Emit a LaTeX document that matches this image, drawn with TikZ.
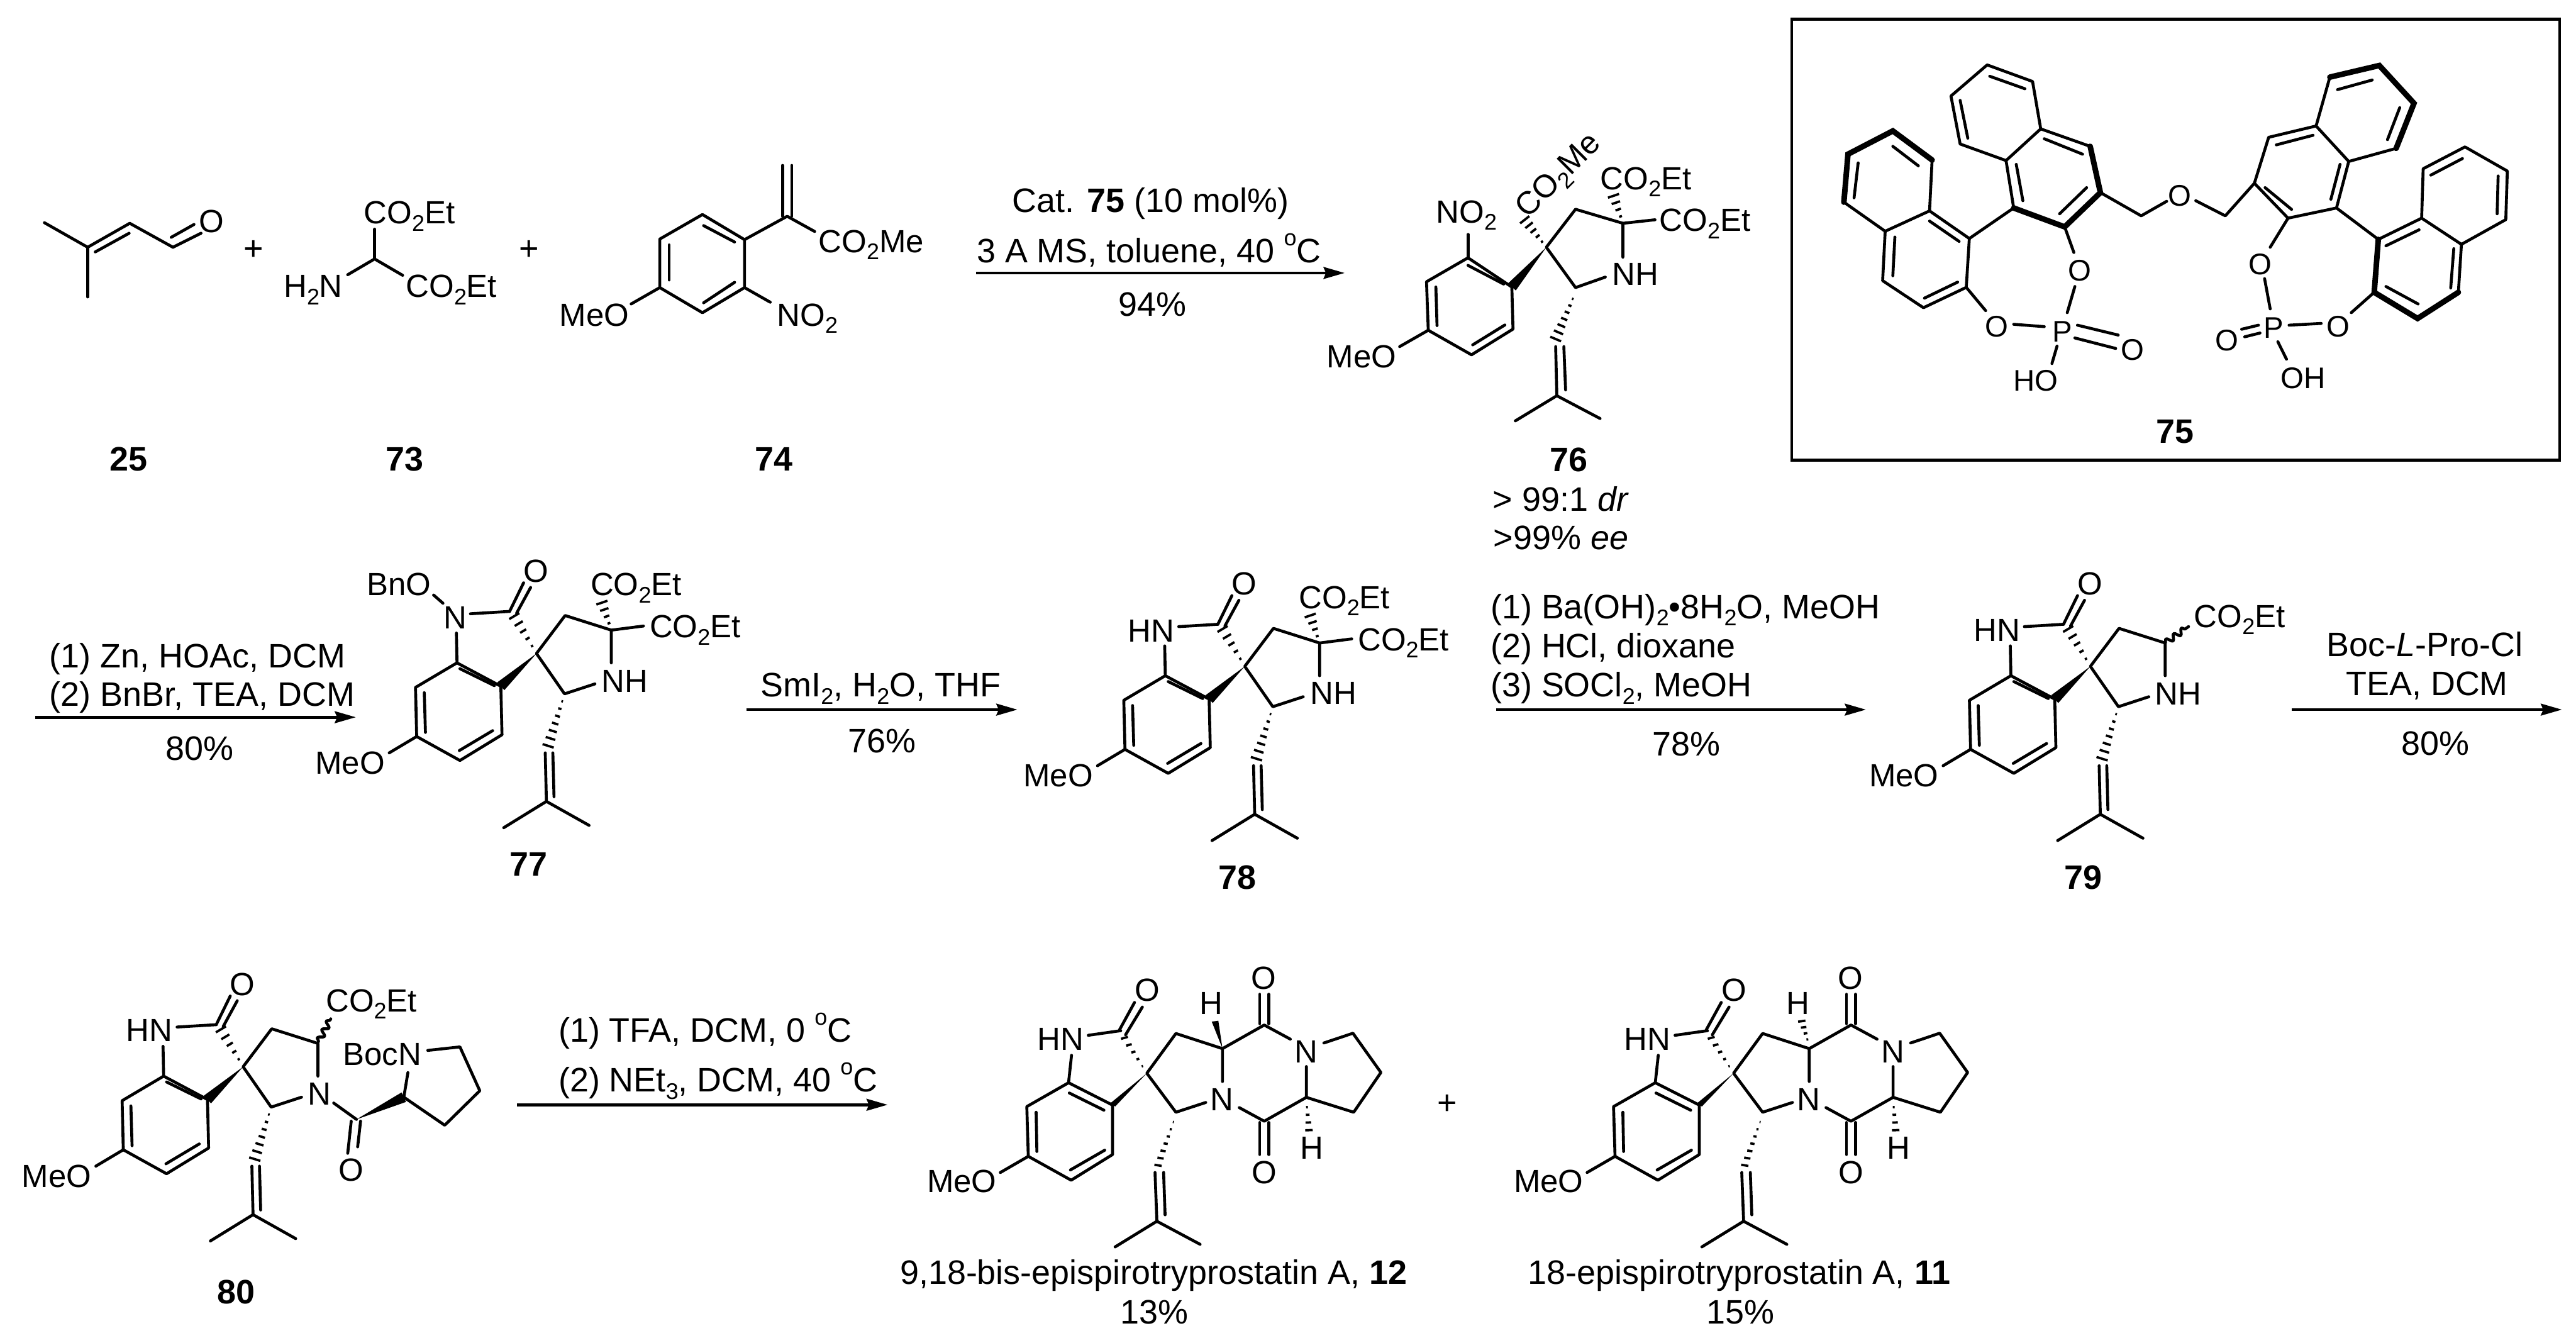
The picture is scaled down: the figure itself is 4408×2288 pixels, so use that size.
\documentclass[tikz,border=0pt]{standalone}
\usepackage{fontspec}
\setmainfont{Liberation Sans}
\usetikzlibrary{arrows.meta, calc, decorations.pathmorphing}

\newcommand{\subs}[1]{\raisebox{-0.22em}{\fontsize{11}{12}\selectfont #1}}
\newcommand{\degc}{\raisebox{0.5em}{\fontsize{11}{12}\selectfont o}C}
\newcommand{\wedgebond}[2]{\fill ($#2!0.09cm!90:#1$) -- #1 -- ($#2!0.09cm!-90:#1$) -- cycle;}
\newcommand{\hashbond}[3]{\foreach \i in {1,...,#1}{\pgfmathsetmacro{\t}{\i/#1}
    \draw[hashmark] ($#2!\t!#3!\t*0.1cm!90:#2$) -- ($#2!\t!#3!\t*0.1cm!-90:#2$);}}

\tikzset{
    bond/.style={line width=0.05cm, line cap=round, line join=round},
    boldbond/.style={line width=0.095cm, line cap=round, line join=miter},
    hashmark/.style={line width=0.04cm},
    wavybond/.style={bond, decorate, decoration={snake, amplitude=0.05cm, segment length=0.16cm}},
    rxn/.style={line width=0.052cm, -{Stealth[length=0.36cm, width=0.2cm, inset=0.04cm]}},
    atom/.style={anchor=base, inner sep=0pt, font=\fontsize{15.6}{18}\selectfont},
    atomw/.style={atom, anchor=base west},
    atome/.style={atom, anchor=base east},
    catatom/.style={atom, font=\fontsize{14.5}{18}\selectfont},
    reag/.style={anchor=base, inner sep=0pt, font=\fontsize{16.5}{20}\selectfont},
    reagw/.style={reag, anchor=base west},
    cpd/.style={reag, font=\fontsize{16.5}{20}\selectfont\bfseries},
    spirocore/.pic={
        \draw[bond] (1994,1156) -- (2069,1196) -- (2071,1279) -- (1999,1323) -- (1925,1282) -- (1923,1198) -- cycle;
        \draw[bond] (1999,1166) -- (2058,1195);
        \draw[bond] (1938,1207) -- (1940,1275);
        \draw[bond] (1998,1306) -- (2055,1272);
        \draw[bond] (1925,1282) -- (1878,1310);
        \node[atome] (-meo) at (1871,1346) {MeO};
        \draw[bond] (1993,1105) -- (1994,1156);
        \draw[bond] (2017,1072) -- (2084,1068);
        \draw[bond] (2084,1068) -- (2108,1019);
        \draw[bond] (2096,1071) -- (2120,1027);
        \node[atom] (-oxo) at (2129,1018) {O};
        \hashbond{5}{(2130,1140)}{(2092,1076)}
        \wedgebond{(2130,1140)}{(2069,1196)}
        \draw[bond] (2258,1156) -- (2258,1100) -- (2179,1075) -- (2130,1140) -- (2178,1209) -- (2230,1192);
        \hashbond{7}{(2178,1209)}{(2150,1298)}
        \draw[bond] (2145,1310) -- (2147,1393);
        \draw[bond] (2158,1310) -- (2160,1385);
        \draw[bond] (2074,1438) -- (2147,1393) -- (2220,1434);
    },
    diester/.pic={
        \hashbond{4}{(2258,1100)}{(2242,1053)}
        \node[atomw] (-up) at (2222,1041) {CO\subs{2}Et};
        \draw[bond] (2258,1100) -- (2313,1093);
        \node[atomw] (-side) at (2323,1113) {CO\subs{2}Et};
    },
    diketo/.pic={
        \begin{scope}[xscale=0.6378, yscale=0.4388]
        \draw[bond] (515,575) -- (633,662) -- (633,855) -- (522,955) -- (407,862) -- (403,668) -- cycle;
        \draw[bond] (517,615) -- (610,682);
        \draw[bond] (428,690) -- (430,843);
        \draw[bond] (520,915) -- (612,838);
        \draw[bond] (407,862) -- (332,925);
        \node[atome] (-meo) at (323,1003) {MeO};
        \node[atome] (-hn) at (557,448) {HN};
        \draw[bond] (523,468) -- (515,575);
        \draw[bond] (568,390) -- (655,372);
        \draw[bond] (652,368) -- (692,262);
        \draw[bond] (668,388) -- (713,280);
        \node[atom] (-oxo) at (727,258) {O};
        \hashbond{5}{(725,538)}{(665,400)}
        \wedgebond{(725,538)}{(633,662)}
        \draw[bond] (928,570) -- (928,442) -- (803,383) -- (725,538) -- (803,690) -- (883,652);
        \draw[bond] (928,442) -- (1040,350) -- (1110,405);
        \draw[bond] (1028,345) -- (1028,230);
        \draw[bond] (1052,345) -- (1052,230);
        \node[atom] (-ota) at (1038,210) {O};
        \node[atom] (-na) at (1153,497) {N};
        \draw[bond] (1200,420) -- (1278,382) -- (1353,535) -- (1280,690) -- (1153,632) -- (1153,512);
        \draw[bond] (1153,632) -- (1040,725) -- (973,672);
        \node[atom] (-nb) at (926,683) {N};
        \draw[bond] (1028,730) -- (1028,855);
        \draw[bond] (1052,730) -- (1052,855);
        \node[atom] (-otb) at (1040,968) {O};
        \hashbond{4}{(1153,640)}{(1160,760)}
        \node[atom] (-hb) at (1168,872) {H};
        \hashbond{7}{(803,700)}{(755,897)}
        \draw[bond] (747,925) -- (752,1115);
        \draw[bond] (770,925) -- (774,1090);
        \draw[bond] (640,1215) -- (752,1115) -- (868,1205);
        \node[atom] (-ha) at (898,308) {H};
        \end{scope}
    }
}

\begin{document}
\begin{tikzpicture}[x=0.01cm, y=-0.01cm]
    \useasboundingbox (0,0) rectangle (4408,2288);

    \draw[bond] (76,381) -- (150,423) -- (222,382) -- (296,423);
    \draw[bond] (150,423) -- (150,508);
    \draw[bond] (163,431) -- (221,399);
    \draw[bond] (296,423) -- (344,399);
    \draw[bond] (293,406) -- (332,384);
    \node[atom] (aldo) at (362,398) {O};
    \node[cpd] (c25) at (220,805) {25};
    \node[reag] (plusa) at (434,445) {+};

    \draw[bond] (641,392) -- (641,443);
    \draw[bond] (595,470) -- (641,443) -- (689,471);
    \node[atomw] (mala) at (622,383) {CO\subs{2}Et};
    \node[atomw] (malb) at (694,509) {CO\subs{2}Et};
    \node[atome] (mnh) at (587,509) {H\subs{2}N};
    \node[cpd] (c73) at (692,805) {73};
    \node[reag] (plusb) at (905,445) {+};

    \draw[bond] (1202,367) -- (1274,410) -- (1274,492) -- (1202,535) -- (1129,492) -- (1129,409) -- cycle;
    \draw[bond] (1204,386) -- (1257,414);
    \draw[bond] (1145,419) -- (1145,479);
    \draw[bond] (1204,518) -- (1257,483);
    \draw[bond] (1274,410) -- (1347,370) -- (1394,396);
    \draw[bond] (1339,370) -- (1339,283);
    \draw[bond] (1355,370) -- (1355,283);
    \draw[bond] (1274,492) -- (1318,517);
    \draw[bond] (1129,492) -- (1080,520);
    \node[atomw] (acry) at (1400,432) {CO\subs{2}Me};
    \node[atomw] (nitro) at (1329,558) {NO\subs{2}};
    \node[atome] (meoa) at (1077,558) {MeO};
    \node[cpd] (c74) at (1324,805) {74};

    \coordinate (ra) at (1670,467);
    \coordinate (rb) at (2301,467);
    \draw[rxn] (ra) -- (rb);
    \node[reag] (ca) at (1969,363) {Cat. \textbf{75} (10 mol\%)};
    \node[reag] (cb) at (1966,449) {3 A MS, toluene, 40 \degc};
    \node[reag] (cc) at (1972,541) {94\%};

    \draw[bond] (2512,441) -- (2587,491) -- (2589,563) -- (2518,607) -- (2444,565) -- (2441,482) -- cycle;
    \draw[bond] (2512,454) -- (2573,486);
    \draw[bond] (2457,491) -- (2459,557);
    \draw[bond] (2520,590) -- (2575,556);
    \draw[bond] (2512,441) -- (2512,401);
    \draw[bond] (2444,565) -- (2395,593);
    \node[atomw] (no) at (2457,381) {NO\subs{2}};
    \node[atome] (meob) at (2390,629) {MeO};
    \wedgebond{(2646,423)}{(2587,491)}
    \hashbond{5}{(2646,423)}{(2609,376)}
    \node[atom, rotate=45, anchor=center] (coe) at (2669,302) {CO\subs{2}Me};
    \draw[bond] (2777,440) -- (2777,382) -- (2696,358) -- (2646,423) -- (2696,492) -- (2747,474);
    \hashbond{4}{(2777,382)}{(2761,335)}
    \node[atomw] (cup) at (2738,324) {CO\subs{2}Et};
    \draw[bond] (2777,382) -- (2832,376);
    \node[atomw] (cside) at (2839,396) {CO\subs{2}Et};
    \node[atomw] (nha) at (2758,488) {NH};
    \hashbond{7}{(2696,500)}{(2662,580)}
    \draw[bond] (2662,593) -- (2664,677);
    \draw[bond] (2676,593) -- (2679,667);
    \draw[bond] (2593,720) -- (2664,677) -- (2738,716);
    \node[cpd] (c76) at (2685,807) {76};
    \node[reag] (dr) at (2671,874) {> 99:1 \textit{dr}};
    \node[reag] (ee) at (2671,940) {>99\% \textit{ee}};

    \draw[line width=0.05cm] (3066,33) rectangle (4380,787);
    \begin{scope}[shift={(3040,20)}, xscale=0.8726, yscale=0.4975]
        \draw[bond] (413,183) -- (502,240) -- (518,403) -- (450,512) -- (360,455) -- (342,290) -- cycle;
        \draw[bond] (418,222) -- (487,265);
        \draw[bond] (375,435) -- (360,305);
        \draw[bond] (518,403) -- (615,463);
        \draw[bond] (525,437) -- (600,490);
        \draw[bond] (450,512) -- (465,675);
        \draw[bond] (470,525) -- (483,650);
        \draw[boldbond] (615,463) -- (635,622) -- (565,740) -- (465,675);
        \draw[bond] (608,605) -- (555,695);
        \draw[bond] (305,510) -- (300,685) -- (213,755) -- (132,655);
        \draw[boldbond] (132,655) -- (140,490) -- (228,410) -- (305,510);
        \draw[bond] (228,463) -- (278,530);
        \draw[bond] (160,520) -- (152,640);
        \draw[bond] (300,685) -- (378,780) -- (372,948) -- (288,1018) -- (208,925) -- (213,755);
        \draw[bond] (300,720) -- (358,790);
        \draw[bond] (232,775) -- (228,908);
        \draw[bond] (355,930) -- (290,985);
        \draw[bond] (465,675) -- (378,780);
        \draw[bond] (565,740) -- (583,828);
        \draw[bond] (372,948) -- (410,1028);
        \node[catatom] (oa) at (595,926) {O};
        \node[catatom] (ob) at (432,1119) {O};
        \node[catatom] (pa) at (560,1135) {P};
        \node[catatom] (oc) at (698,1198) {O};
        \node[catatom] (hoa) at (508,1305) {HO};
        \draw[bond] (465,1075) -- (525,1083);
        \draw[bond] (585,945) -- (570,1035);
        \draw[bond] (590,1078) -- (670,1112);
        \draw[bond] (585,1122) -- (665,1158);
        \draw[bond] (550,1150) -- (540,1210);
        \draw[bond] (635,622) -- (715,702) -- (765,652);
        \node[catatom] (oe) at (790,668) {O};
        \draw[bond] (822,650) -- (880,702) -- (937,590);
        \draw[bond] (1085,225) -- (1058,393) -- (1122,515);
        \draw[boldbond] (1085,225) -- (1182,185) -- (1250,315) -- (1215,470);
        \draw[bond] (1215,470) -- (1122,515);
        \draw[bond] (1168,235) -- (1100,268);
        \draw[bond] (1222,330) -- (1198,440);
        \draw[bond] (1058,393) -- (965,432) -- (937,590) -- (1003,710) -- (1098,675) -- (1122,515);
        \draw[bond] (1052,425) -- (980,458);
        \draw[bond] (1105,525) -- (1087,645);
        \draw[bond] (958,605) -- (1010,680);
        \draw[bond] (1098,675) -- (1180,783);
        \draw[boldbond] (1180,783) -- (1172,965) -- (1257,1055) -- (1337,965);
        \draw[bond] (1180,783) -- (1265,710) -- (1343,800) -- (1337,965);
        \draw[bond] (1195,805) -- (1260,750);
        \draw[bond] (1328,815) -- (1322,950);
        \draw[bond] (1195,945) -- (1258,1005);
        \draw[bond] (1265,710) -- (1268,540) -- (1350,465) -- (1433,548) -- (1430,715) -- (1343,800);
        \draw[bond] (1283,562) -- (1345,505);
        \draw[bond] (1415,565) -- (1413,695);
        \draw[bond] (1003,710) -- (968,810);
        \draw[bond] (1172,965) -- (1127,1035);
        \node[catatom] (of) at (948,903) {O};
        \node[catatom] (pb) at (975,1122) {P};
        \node[catatom] (og) at (1102,1118) {O};
        \node[catatom] (oh) at (883,1165) {O};
        \node[catatom] (hob) at (1033,1296) {OH};
        \draw[bond] (957,918) -- (968,1022);
        \draw[bond] (1005,1078) -- (1068,1072);
        \draw[bond] (912,1092) -- (945,1078);
        \draw[bond] (918,1118) -- (948,1105);
        \draw[bond] (983,1135) -- (1000,1195);
        \node[cpd] (c75) at (782,1483) {75};
    \end{scope}

    \coordinate (rc) at (60,1227);
    \coordinate (rd) at (609,1227);
    \draw[rxn] (rc) -- (rd);
    \node[reagw] (da) at (84,1142) {(1) Zn, HOAc, DCM};
    \node[reagw] (db) at (84,1208) {(2) BnBr, TEA, DCM};
    \node[reag] (dc) at (342,1301) {80\%};

    \pic (pa) at (-1212,-22) {spirocore};
    \pic (qa) at (-1212,-22) {diester};
    \node[atom] (na) at (779,1076) {N};
    \node[atome] (bno) at (738,1019) {BnO};
    \draw[bond] (742,1018) -- (758,1032);
    \node[atomw] (nhb) at (1029,1184) {NH};
    \node[cpd] (c77) at (904,1499) {77};

    \coordinate (re) at (1277,1214);
    \coordinate (rf) at (1741,1214);
    \draw[rxn] (re) -- (rf);
    \node[reagw] (ea) at (1301,1192) {SmI\subs{2}, H\subs{2}O, THF};
    \node[reag] (eb) at (1509,1288) {76\%};

    \pic (pb) at (0,0) {spirocore};
    \pic (qb) at (0,0) {diester};
    \node[atome] (hna) at (2010,1098) {HN};
    \node[atomw] (nhc) at (2242,1205) {NH};
    \node[cpd] (c78) at (2117,1521) {78};

    \coordinate (rg) at (2560,1214);
    \coordinate (rh) at (3193,1214);
    \draw[rxn] (rg) -- (rh);
    \node[reagw] (fa) at (2550,1058) {(1) Ba(OH)\subs{2}•8H\subs{2}O, MeOH};
    \node[reagw] (fb) at (2550,1125) {(2) HCl, dioxane};
    \node[reagw] (fc) at (2550,1192) {(3) SOCl\subs{2}, MeOH};
    \node[reag] (fd) at (2886,1293) {78\%};

    \pic (pc) at (1447,0) {spirocore};
    \node[atome] (hnb) at (3458,1097) {HN};
    \node[atomw] (nhd) at (3687,1206) {NH};
    \coordinate (wa) at (3705,1100);
    \coordinate (wb) at (3745,1072);
    \draw[wavybond] (wa) -- (wb);
    \node[atomw] (coa) at (3754,1073) {CO\subs{2}Et};
    \node[cpd] (c79) at (3565,1521) {79};

    \coordinate (ri) at (3922,1214);
    \coordinate (rj) at (4384,1214);
    \draw[rxn] (ri) -- (rj);
    \node[reag] (ga) at (4149,1123) {Boc-\textit{L}-Pro-Cl};
    \node[reag] (gb) at (4153,1190) {TEA, DCM};
    \node[reag] (gc) at (4167,1292) {80\%};

    \pic (pd) at (-1714,685) {spirocore};
    \node[atome] (hnc) at (296,1782) {HN};
    \node[atomw] (nc) at (526,1890) {N};
    \coordinate (wc) at (545,1782);
    \coordinate (wd) at (566,1743);
    \draw[wavybond] (wc) -- (wd);
    \node[atomw] (cob) at (557,1731) {CO\subs{2}Et};
    \draw[bond] (571,1887) -- (610,1915);
    \draw[bond] (601,1918) -- (595,1973);
    \draw[bond] (617,1918) -- (612,1962);
    \node[atom] (oxb) at (601,2021) {O};
    \wedgebond{(610,1915)}{(691,1877)}
    \draw[bond] (698,1835) -- (691,1877) -- (761,1925) -- (821,1866) -- (787,1791) -- (732,1797);
    \node[atome] (boc) at (722,1822) {BocN};
    \node[cpd] (c80) at (404,2230) {80};

    \coordinate (rk) at (885,1890);
    \coordinate (rl) at (1519,1890);
    \draw[rxn] (rk) -- (rl);
    \node[reagw] (ha) at (955,1783) {(1) TFA, DCM, 0 \degc};
    \node[reagw] (hb) at (955,1868) {(2) NEt\subs{3}, DCM, 40 \degc};

    \pic (pe) at (1500,1600) {diketo};
    \begin{scope}[shift={(1500,1600)}, xscale=0.6378, yscale=0.4388]
        \wedgebond{(928,442)}{(908,335)}
        \node[reag] (ia) at (743,1360) {9,18-bis-epispirotryprostatin A, \textbf{12}};
        \node[reag] (ib) at (745,1515) {13\%};
    \end{scope}
    \node[reag] (plusc) at (2476,1906) {+};
    \pic (pf) at (2504,1600) {diketo};
    \begin{scope}[shift={(2504,1600)}, xscale=0.6378, yscale=0.4388]
        \hashbond{4}{(928,430)}{(908,335)}
        \node[reag] (ja) at (740,1360) {18-epispirotryprostatin A, \textbf{11}};
        \node[reag] (jb) at (744,1515) {15\%};
    \end{scope}
\end{tikzpicture}
\end{document}
